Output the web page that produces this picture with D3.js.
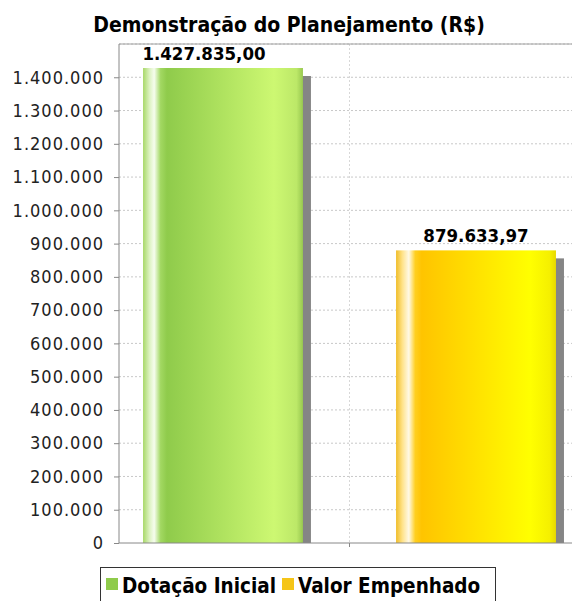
<!DOCTYPE html>
<html>
<head>
<meta charset="utf-8">
<script src="https://cdn.jsdelivr.net/npm/d3@7"></script>
<style>
  body { margin: 0; background: #fff; }
  svg { display: block; font-family: "DejaVu Sans Condensed", "DejaVu Sans", sans-serif; }
  .negrito { font-weight: bold; }
</style>
</head>
<body>
<svg id="grafico" width="572" height="601"></svg>
<script>
// dados do grafico
let series = ['Dotação Inicial', 'Valor Empenhado'];
let valores = [1427835.00, 879633.97];
let rotulos = ['1.427.835,00', '879.633,97'];
let ticks = d3.range(0, 1500001, 100000);

let svg = d3.select('#grafico');

let esq = 119, dir = 580, topo = 44, base = 543;

let fnx = d3.scaleBand()
    .domain(series)
    .range([esq, dir])
    .paddingInner(0.368)
    .paddingOuter(0.095);

let fny = d3.scaleLinear()
    .domain([0, 1500000])
    .range([base, topo]);

let fmt = (v) => v === 0 ? '0' : d3.format(',')(v).replace(/,/g, '.');

// gradientes
let defs = svg.append('defs');
let cores = [
  [['0%', '#a8d868'], ['4%', '#dcf2c0'], ['7%', '#f6fdee'], ['11%', '#a2d862'], ['15%', '#8fcb4b'], ['82%', '#cdf872'], ['96%', '#bce868'], ['100%', '#98c850']],
  [['0%', '#f0bd28'], ['4%', '#ffe38a'], ['8%', '#fff9e6'], ['12%', '#ffcf20'], ['16%', '#ffc400'], ['84%', '#ffff00'], ['96%', '#f5f000'], ['100%', '#e8d800']]
];
cores.forEach((stops, i) => {
  let g = defs.append('linearGradient').attr('id', 'grad' + i)
      .attr('x1', 0).attr('x2', 1).attr('y1', 0).attr('y2', 0);
  stops.forEach(s => g.append('stop').attr('offset', s[0]).attr('stop-color', s[1]));
});
defs.append('clipPath').attr('id', 'clip')
  .append('rect').attr('x', esq).attr('y', topo).attr('width', dir - esq).attr('height', base - topo);

// titulo
svg.append('text')
    .attr('class', 'negrito')
    .attr('x', 289).attr('y', 32)
    .attr('text-anchor', 'middle')
    .attr('font-size', 21)
    .text('Demonstração do Planejamento (R$)');

// grade horizontal
svg.append('g').selectAll('line')
    .data(ticks.slice(1))
    .join('line')
    .attr('x1', esq).attr('x2', dir)
    .attr('y1', d => fny(d)).attr('y2', d => fny(d))
    .attr('stroke', '#c8c8c8').attr('stroke-dasharray', '2,2');

// grade vertical (centro da categoria)
svg.append('line')
    .attr('x1', (esq + dir) / 2).attr('x2', (esq + dir) / 2)
    .attr('y1', topo).attr('y2', base)
    .attr('stroke', '#d8d8d8').attr('stroke-dasharray', '2,2');

// borda superior
svg.append('line')
    .attr('x1', esq).attr('x2', dir).attr('y1', topo).attr('y2', topo)
    .attr('stroke', '#a0a0a0');

let plot = svg.append('g').attr('clip-path', 'url(#clip)');

// sombras
plot.selectAll('.sombra')
    .data(valores)
    .join('rect')
    .attr('class', 'sombra')
    .attr('x', (d, i) => fnx(series[i]) + 8)
    .attr('y', d => fny(d) + 8)
    .attr('width', fnx.bandwidth())
    .attr('height', d => base - fny(d))
    .attr('fill', '#858585');

// barras
plot.selectAll('.coluna')
    .data(valores)
    .join('rect')
    .attr('class', 'coluna')
    .attr('x', (d, i) => fnx(series[i]))
    .attr('y', d => fny(d))
    .attr('width', fnx.bandwidth())
    .attr('height', d => base - fny(d))
    .attr('fill', (d, i) => 'url(#grad' + i + ')');

// rotulos
svg.selectAll('.rotulo')
    .data(valores)
    .join('text')
    .attr('class', 'rotulo negrito')
    .attr('x', (d, i) => fnx(series[i]) + fnx.bandwidth() / 2)
    .attr('dx', (d, i) => i === 0 ? -19 : 0)
    .attr('y', d => fny(d) - 8)
    .attr('text-anchor', 'middle')
    .attr('font-size', 18.5)
    .text((d, i) => rotulos[i]);

// eixo y
let eixoY = svg.append('g')
    .attr('transform', 'translate(' + esq + ',0)')
    .call(d3.axisLeft(fny).tickValues(ticks.slice(0, 15)).tickFormat(fmt).tickSize(5).tickPadding(10));
eixoY.select('.domain').attr('stroke', '#888').attr('d', 'M0,' + topo + 'V' + base);
eixoY.selectAll('.tick line').attr('stroke', '#888');
eixoY.selectAll('.tick text')
    .attr('font-size', 18).attr('fill', '#222')
    .attr('font-family', '"DejaVu Sans Condensed", sans-serif')
    .attr('letter-spacing', 1);

// eixo x
svg.append('line')
    .attr('x1', esq).attr('x2', dir).attr('y1', base).attr('y2', base)
    .attr('stroke', '#888');
svg.append('line')
    .attr('x1', (esq + dir) / 2).attr('x2', (esq + dir) / 2)
    .attr('y1', base).attr('y2', base + 4)
    .attr('stroke', '#888');

// legenda
let leg = svg.append('g');
leg.append('rect')
    .attr('x', 100.5).attr('y', 567.5).attr('width', 395).attr('height', 40)
    .attr('fill', '#fff').attr('stroke', '#333');
let itensX = [106, 282];
let corLeg = ['#8fcb4b', '#f5c518'];
series.forEach((s, i) => {
  leg.append('rect')
      .attr('x', itensX[i]).attr('y', 578).attr('width', 12).attr('height', 12)
      .attr('fill', corLeg[i]);
  leg.append('text')
      .attr('class', 'negrito')
      .attr('x', itensX[i] + 16).attr('y', 593)
      .attr('font-size', 20.5)
      .text(s);
});
</script>
</body>
</html>
